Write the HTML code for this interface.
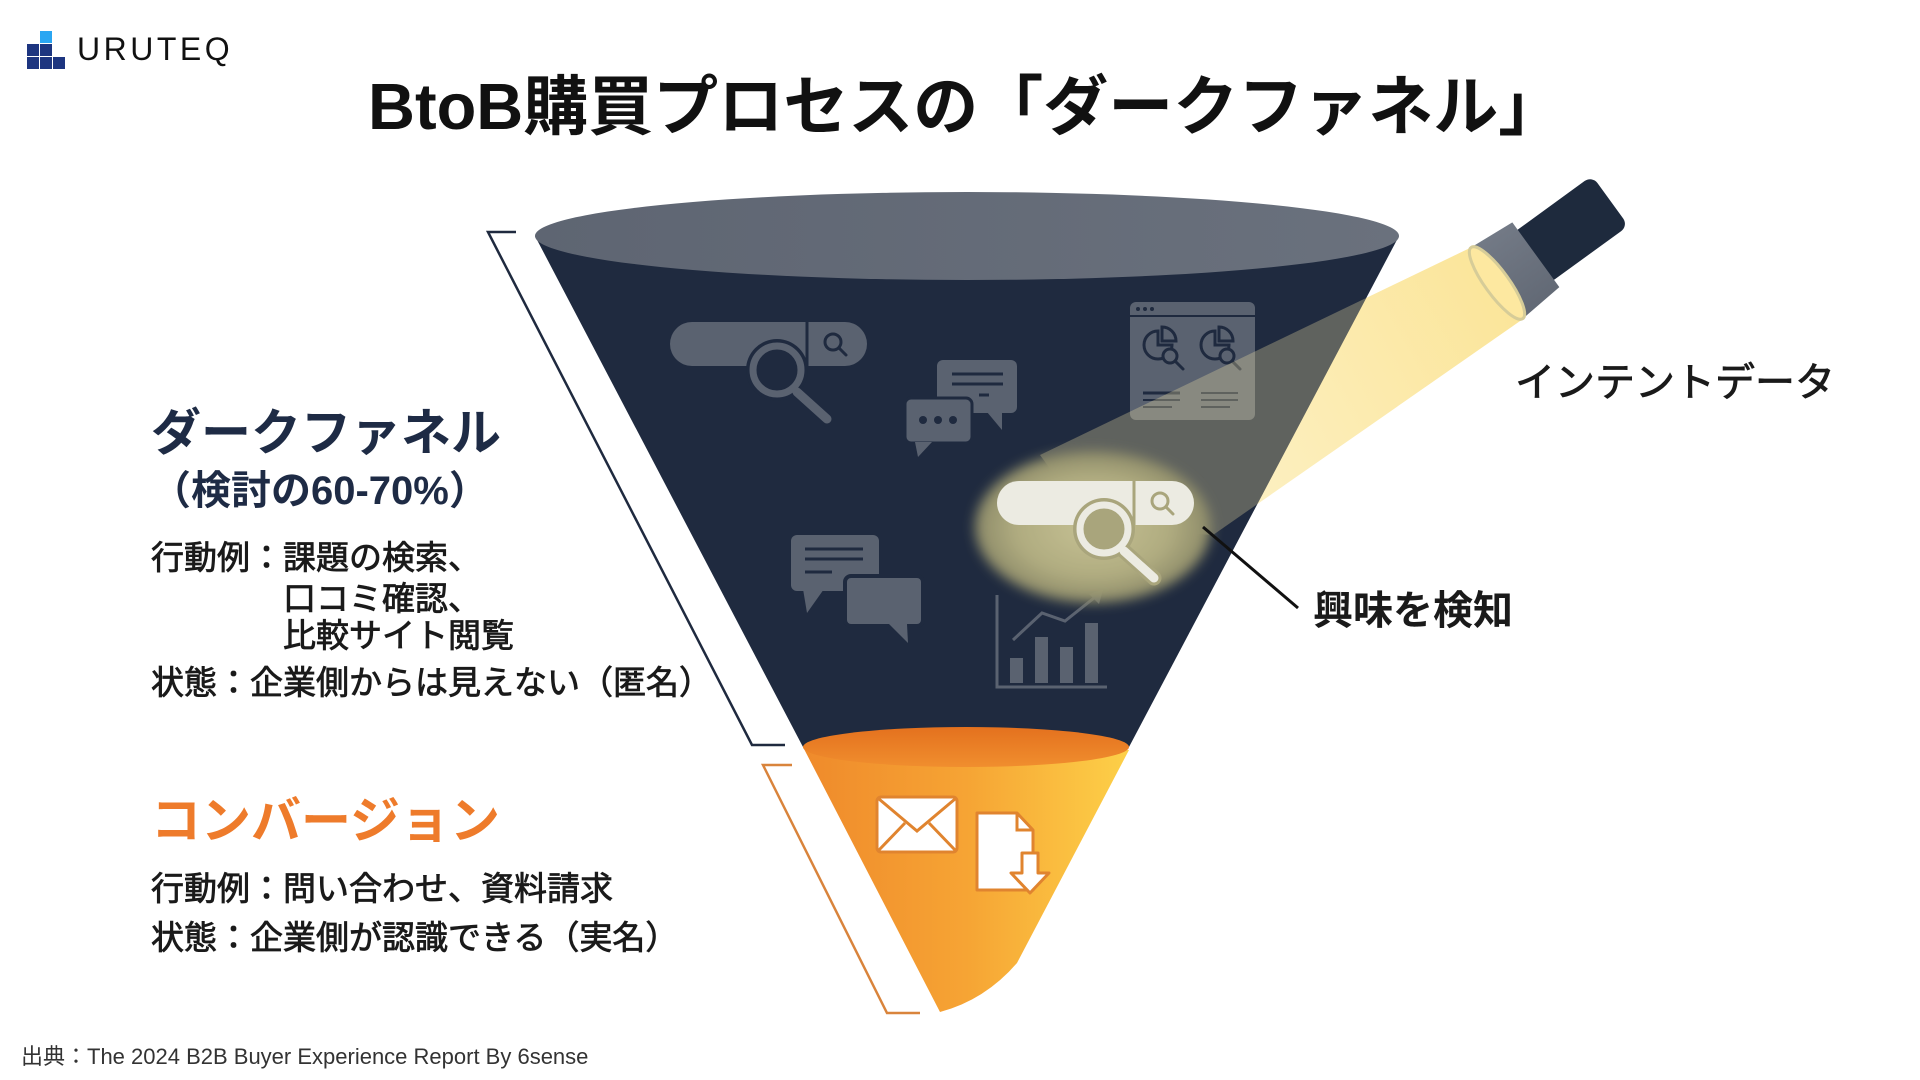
<!DOCTYPE html>
<html lang="ja">
<head>
<meta charset="utf-8">
<style>
  html,body{margin:0;padding:0;background:#ffffff;}
  body{width:1920px;height:1080px;position:relative;overflow:hidden;}
  .t{position:absolute;white-space:nowrap;line-height:1;font-family:"Liberation Sans","Noto Sans CJK JP",sans-serif;}
  .m{font-weight:400;-webkit-text-stroke:0.8px currentColor;}
</style>
</head>
<body>
<svg width="1920" height="1080" viewBox="0 0 1920 1080" style="position:absolute;left:0;top:0">
  <defs>
    <linearGradient id="beamA" gradientUnits="userSpaceOnUse" x1="1497" y1="283" x2="1110" y2="500">
      <stop offset="0" stop-color="#fbe59a"/>
      <stop offset="1" stop-color="#fdf4d0"/>
    </linearGradient>
    <linearGradient id="topEl" gradientUnits="userSpaceOnUse" x1="535" y1="0" x2="1399" y2="0">
      <stop offset="0" stop-color="#5e6572"/>
      <stop offset="1" stop-color="#6a717d"/>
    </linearGradient>
    <linearGradient id="cone" gradientUnits="userSpaceOnUse" x1="803" y1="0" x2="1129" y2="0">
      <stop offset="0" stop-color="#ef8a2b"/>
      <stop offset="0.5" stop-color="#f6a434"/>
      <stop offset="1" stop-color="#fdd048"/>
    </linearGradient>
    <linearGradient id="coneTop" gradientUnits="userSpaceOnUse" x1="0" y1="727" x2="0" y2="767">
      <stop offset="0" stop-color="#e4711e"/>
      <stop offset="1" stop-color="#f08e2e"/>
    </linearGradient>
    <radialGradient id="glow" cx="0.5" cy="0.5" r="0.5">
      <stop offset="0" stop-color="#c6c194"/>
      <stop offset="0.65" stop-color="#b0ac80"/>
      <stop offset="1" stop-color="#8c8a68"/>
    </radialGradient>
    <linearGradient id="collar" gradientUnits="userSpaceOnUse" x1="0" y1="-44" x2="0" y2="44">
      <stop offset="0" stop-color="#737a86"/>
      <stop offset="1" stop-color="#626975"/>
    </linearGradient>
    <filter id="blur" x="-20%" y="-20%" width="140%" height="140%">
      <feGaussianBlur stdDeviation="6"/>
    </filter>
    <clipPath id="funnelClip">
      <polygon points="535,236 803,747 1129,747 1399,236"/>
    </clipPath>
  </defs>

  <polygon points="1472,247 1523,319 1213,535 1093,527 1040,455" fill="url(#beamA)"/>

  <polygon points="535,236 803,747 1129,747 1399,236" fill="#1f2a3f"/>
  <ellipse cx="967" cy="236" rx="432" ry="44" fill="url(#topEl)"/>

  <g transform="translate(670,322)">
    <rect x="0" y="0" width="197" height="44" rx="22" fill="#5a6270"/>
    <line x1="137" y1="0" x2="137" y2="44" stroke="#1f2a3f" stroke-width="3"/>
    <circle cx="163" cy="20" r="8" fill="none" stroke="#1f2a3f" stroke-width="3"/>
    <line x1="169" y1="26" x2="176" y2="33" stroke="#1f2a3f" stroke-width="3" stroke-linecap="round"/>
    <circle cx="107" cy="48" r="31" fill="#1f2a3f"/>
    <line x1="127" y1="70" x2="157" y2="97" stroke="#1f2a3f" stroke-width="15" stroke-linecap="round"/>
    <line x1="127" y1="70" x2="157" y2="97" stroke="#5a6270" stroke-width="9" stroke-linecap="round"/>
    <circle cx="107" cy="48" r="24" fill="#1f2a3f" stroke="#5a6270" stroke-width="7"/>
  </g>

  <g>
    <rect x="937" y="360" width="80" height="53" rx="6" fill="#5a6270"/>
    <polygon points="987,412 1002,430 1002,412" fill="#5a6270"/>
    <line x1="952" y1="374" x2="1003" y2="374" stroke="#1f2a3f" stroke-width="3"/>
    <line x1="952" y1="384" x2="1003" y2="384" stroke="#1f2a3f" stroke-width="3"/>
    <line x1="979" y1="395" x2="989" y2="395" stroke="#1f2a3f" stroke-width="3"/>
    <rect x="905" y="398" width="67" height="45" rx="6" fill="#5a6270" stroke="#1f2a3f" stroke-width="3"/>
    <polygon points="915,442 918,457 932,442" fill="#5a6270"/>
    <circle cx="923" cy="420" r="4" fill="#1f2a3f"/>
    <circle cx="938" cy="420" r="4" fill="#1f2a3f"/>
    <circle cx="953" cy="420" r="4" fill="#1f2a3f"/>
  </g>

  <g>
    <rect x="1130" y="302" width="125" height="118" rx="6" fill="#5a6270"/>
    <line x1="1130" y1="316" x2="1255" y2="316" stroke="#1f2a3f" stroke-width="2"/>
    <circle cx="1138" cy="309" r="2" fill="#1f2a3f"/>
    <circle cx="1145" cy="309" r="2" fill="#1f2a3f"/>
    <circle cx="1152" cy="309" r="2" fill="#1f2a3f"/>
    <path d="M1158,331 A14,14 0 1 0 1172,345 L1158,345 Z" fill="none" stroke="#1f2a3f" stroke-width="3"/>
    <path d="M1162,327 A14,14 0 0 1 1176,341 L1162,341 Z" fill="none" stroke="#1f2a3f" stroke-width="3"/>
    <circle cx="1170" cy="356" r="7" fill="#5a6270" stroke="#1f2a3f" stroke-width="3"/>
    <line x1="1175" y1="361" x2="1183" y2="369" stroke="#1f2a3f" stroke-width="3" stroke-linecap="round"/>
    <path d="M1215,331 A14,14 0 1 0 1229,345 L1215,345 Z" fill="none" stroke="#1f2a3f" stroke-width="3"/>
    <path d="M1219,327 A14,14 0 0 1 1233,341 L1219,341 Z" fill="none" stroke="#1f2a3f" stroke-width="3"/>
    <circle cx="1227" cy="356" r="7" fill="#5a6270" stroke="#1f2a3f" stroke-width="3"/>
    <line x1="1232" y1="361" x2="1240" y2="369" stroke="#1f2a3f" stroke-width="3" stroke-linecap="round"/>
    <line x1="1143" y1="393" x2="1180" y2="393" stroke="#1f2a3f" stroke-width="3"/>
    <line x1="1143" y1="400" x2="1180" y2="400" stroke="#1f2a3f" stroke-width="2"/>
    <line x1="1143" y1="407" x2="1172" y2="407" stroke="#1f2a3f" stroke-width="2"/>
    <line x1="1201" y1="393" x2="1238" y2="393" stroke="#1f2a3f" stroke-width="2"/>
    <line x1="1201" y1="400" x2="1238" y2="400" stroke="#1f2a3f" stroke-width="2"/>
    <line x1="1201" y1="407" x2="1230" y2="407" stroke="#1f2a3f" stroke-width="2"/>
  </g>

  <g>
    <rect x="791" y="535" width="88" height="56" rx="6" fill="#5a6270"/>
    <polygon points="803,589 807,613 824,589" fill="#5a6270"/>
    <line x1="805" y1="549" x2="863" y2="549" stroke="#1f2a3f" stroke-width="3"/>
    <line x1="805" y1="559" x2="863" y2="559" stroke="#1f2a3f" stroke-width="3"/>
    <line x1="805" y1="572" x2="832" y2="572" stroke="#1f2a3f" stroke-width="3"/>
    <rect x="845" y="576" width="78" height="50" rx="6" fill="#5a6270" stroke="#1f2a3f" stroke-width="4"/>
    <polygon points="889,624 908,643 907,624" fill="#5a6270"/>
  </g>

  <g>
    <path d="M997,595 L997,687 L1107,687" fill="none" stroke="#5a6270" stroke-width="3"/>
    <rect x="1010" y="658" width="13" height="25" fill="#5a6270"/>
    <rect x="1035" y="637" width="13" height="46" fill="#5a6270"/>
    <rect x="1060" y="647" width="13" height="36" fill="#5a6270"/>
    <rect x="1085" y="623" width="13" height="60" fill="#5a6270"/>
    <polyline points="1013,640 1042,613 1065,621 1094,598" fill="none" stroke="#5a6270" stroke-width="3"/>
    <polygon points="1103,590 1089,594 1099,604" fill="#5a6270"/>
  </g>

  <polygon points="1472,247 1523,319 1213,535 1093,527 1040,455" fill="#f6e6a6" opacity="0.3" clip-path="url(#funnelClip)"/>

  <ellipse cx="1093" cy="527" rx="118" ry="76" fill="url(#glow)" filter="url(#blur)"/>

  <g transform="translate(997,481)">
    <rect x="0" y="0" width="197" height="44" rx="22" fill="#ecebe2"/>
    <line x1="137" y1="0" x2="137" y2="44" stroke="#a9a57c" stroke-width="3"/>
    <circle cx="163" cy="20" r="8" fill="none" stroke="#a9a57c" stroke-width="3"/>
    <line x1="169" y1="26" x2="176" y2="33" stroke="#a9a57c" stroke-width="3" stroke-linecap="round"/>
    <circle cx="107" cy="48" r="31" fill="#a9a57c"/>
    <line x1="127" y1="70" x2="157" y2="97" stroke="#a9a57c" stroke-width="15" stroke-linecap="round"/>
    <line x1="127" y1="70" x2="157" y2="97" stroke="#ecebe2" stroke-width="9" stroke-linecap="round"/>
    <circle cx="107" cy="48" r="24" fill="#a9a57c" stroke="#ecebe2" stroke-width="7"/>
  </g>

  <path d="M803,747 L940,1012 Q985,1000 1017,963 L1129,750 Z" fill="url(#cone)"/>
  <ellipse cx="966" cy="747" rx="163" ry="20" fill="url(#coneTop)"/>

  <g>
    <rect x="877" y="797" width="80" height="55" rx="4" fill="#ffffff" stroke="#e0842f" stroke-width="3"/>
    <polyline points="879,799 917,831 955,799" fill="none" stroke="#e0842f" stroke-width="3"/>
    <line x1="879" y1="850" x2="905" y2="823" stroke="#e0842f" stroke-width="3"/>
    <line x1="955" y1="850" x2="929" y2="823" stroke="#e0842f" stroke-width="3"/>
  </g>
  <g>
    <path d="M977,813 L1017,813 L1033,830 L1033,890 L977,890 Z" fill="#ffffff" stroke="#e0842f" stroke-width="3" stroke-linejoin="round"/>
    <path d="M1017,813 L1017,830 L1033,830" fill="none" stroke="#e0842f" stroke-width="3"/>
    <path d="M1022,853 L1038,853 L1038,873 L1049,873 L1030,893 L1011,873 L1022,873 Z" fill="#ffffff" stroke="#e0842f" stroke-width="3" stroke-linejoin="round"/>
  </g>

  <polyline points="516,232 488,232 752,745 785,745" fill="none" stroke="#1f2a3f" stroke-width="2.5"/>
  <polyline points="792,765 763,765 887,1013 920,1013" fill="none" stroke="#d9843c" stroke-width="2.5"/>

  <line x1="1203" y1="527" x2="1298" y2="608" stroke="#111111" stroke-width="3"/>

  <g transform="translate(1497,283) rotate(-36)">
    <rect x="40" y="-31" width="100" height="62" rx="9" fill="#1e2a3d"/>
    <polygon points="0,-44 48,-40 48,40 0,44" fill="url(#collar)"/>
    <ellipse cx="0" cy="0" rx="12" ry="44" fill="#fde8a0" stroke="#d6cc98" stroke-width="3"/>
  </g>

  <rect x="40" y="31" width="12" height="12" fill="#2aa6f2"/>
  <rect x="27" y="44" width="12" height="12" fill="#1d3580"/>
  <rect x="40" y="44" width="12" height="12" fill="#1d3580"/>
  <rect x="27" y="57" width="12" height="12" fill="#1d3580"/>
  <rect x="40" y="57" width="12" height="12" fill="#1d3580"/>
  <rect x="53" y="57" width="12" height="12" fill="#1d3580"/>
</svg>

<div class="t" style="left:77px;top:33px;font-size:32px;letter-spacing:3.5px;color:#111;">URUTEQ</div>

<div class="t" style="left:368px;top:74px;font-size:65px;font-weight:700;color:#111;">BtoB購買プロセスの「ダークファネル」</div>

<div class="t" style="left:151px;top:408px;font-size:50px;font-weight:700;color:#1e2b45;">ダークファネル</div>
<div class="t" style="left:151px;top:471px;font-size:40px;font-weight:700;color:#1e2b45;">（検討の60-70%）</div>

<div class="t m" style="left:151px;top:541px;font-size:33px;color:#1a1a1a;">行動例：課題の検索、</div>
<div class="t m" style="left:283px;top:582px;font-size:33px;color:#1a1a1a;">口コミ確認、</div>
<div class="t m" style="left:283px;top:619px;font-size:33px;color:#1a1a1a;">比較サイト閲覧</div>
<div class="t m" style="left:151px;top:666px;font-size:33px;color:#1a1a1a;">状態：企業側からは見えない（匿名）</div>

<div class="t" style="left:151px;top:796px;font-size:50px;font-weight:700;color:#ee7b2b;">コンバージョン</div>
<div class="t m" style="left:151px;top:872px;font-size:33px;color:#1a1a1a;">行動例：問い合わせ、資料請求</div>
<div class="t m" style="left:151px;top:921px;font-size:33px;color:#1a1a1a;">状態：企業側が認識できる（実名）</div>

<div class="t m" style="left:1515px;top:363px;font-size:40px;color:#1a1a1a;">インテントデータ</div>
<div class="t" style="left:1313px;top:591px;font-size:40px;font-weight:700;color:#1a1a1a;">興味を検知</div>

<div class="t" style="left:21px;top:1046px;font-size:22px;color:#333;">出典：The 2024 B2B Buyer Experience Report By 6sense</div>
</body>
</html>
